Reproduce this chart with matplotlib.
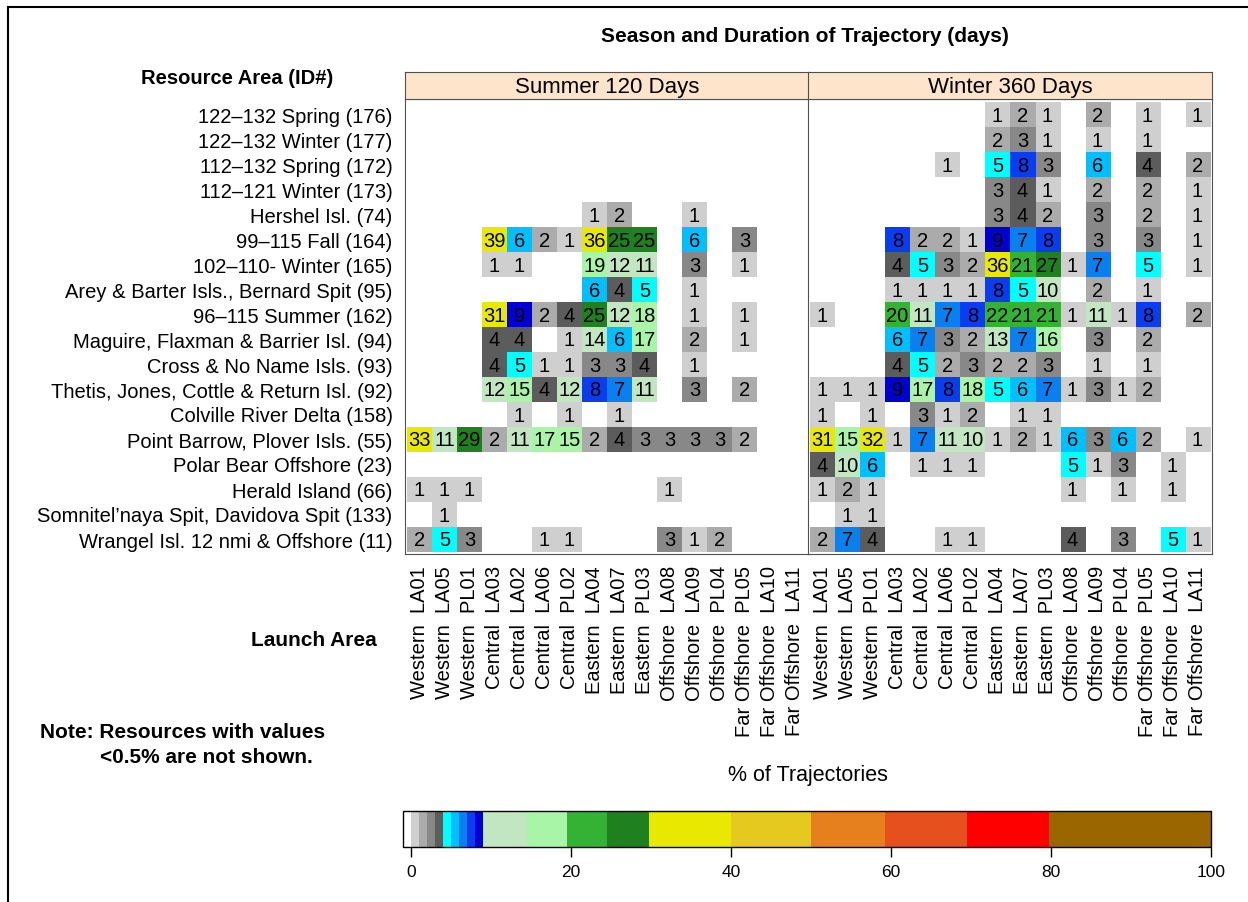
import numpy as np
import matplotlib.pyplot as plt
from matplotlib.colors import ListedColormap, BoundaryNorm
from matplotlib.cm import ScalarMappable
from matplotlib.lines import Line2D

plt.rcParams['font.family'] = ['Liberation Sans', 'DejaVu Sans']

resources = ['122\u2013132 Spring (176)', '122\u2013132 Winter (177)', '112\u2013132 Spring (172)',
             '112\u2013121 Winter (173)', 'Hershel Isl. (74)', '99\u2013115 Fall (164)',
             '102\u2013110- Winter (165)', 'Arey & Barter Isls., Bernard Spit (95)',
             '96\u2013115 Summer (162)', 'Maguire, Flaxman & Barrier Isl. (94)',
             'Cross & No Name Isls. (93)', 'Thetis, Jones, Cottle & Return Isl. (92)',
             'Colville River Delta (158)', 'Point Barrow, Plover Isls. (55)',
             'Polar Bear Offshore (23)', 'Herald Island (66)',
             "Somnitel\u2019naya Spit, Davidova Spit (133)", 'Wrangel Isl. 12 nmi & Offshore (11)']

launch_areas = ['Western  LA01', 'Western  LA05', 'Western  PL01', 'Central  LA03', 'Central  LA02',
                'Central  LA06', 'Central  PL02', 'Eastern  LA04', 'Eastern  LA07', 'Eastern  PL03',
                'Offshore  LA08', 'Offshore  LA09', 'Offshore  PL04', 'Far Offshore  PL05',
                'Far Offshore  LA10', 'Far Offshore  LA11']

# % of trajectories, 0 = not shown
summer = [
    [0, 0, 0, 0, 0, 0, 0, 0, 0, 0, 0, 0, 0, 0, 0, 0],
    [0, 0, 0, 0, 0, 0, 0, 0, 0, 0, 0, 0, 0, 0, 0, 0],
    [0, 0, 0, 0, 0, 0, 0, 0, 0, 0, 0, 0, 0, 0, 0, 0],
    [0, 0, 0, 0, 0, 0, 0, 0, 0, 0, 0, 0, 0, 0, 0, 0],
    [0, 0, 0, 0, 0, 0, 0, 1, 2, 0, 0, 1, 0, 0, 0, 0],
    [0, 0, 0, 39, 6, 2, 1, 36, 25, 25, 0, 6, 0, 3, 0, 0],
    [0, 0, 0, 1, 1, 0, 0, 19, 12, 11, 0, 3, 0, 1, 0, 0],
    [0, 0, 0, 0, 0, 0, 0, 6, 4, 5, 0, 1, 0, 0, 0, 0],
    [0, 0, 0, 31, 9, 2, 4, 25, 12, 18, 0, 1, 0, 1, 0, 0],
    [0, 0, 0, 4, 4, 0, 1, 14, 6, 17, 0, 2, 0, 1, 0, 0],
    [0, 0, 0, 4, 5, 1, 1, 3, 3, 4, 0, 1, 0, 0, 0, 0],
    [0, 0, 0, 12, 15, 4, 12, 8, 7, 11, 0, 3, 0, 2, 0, 0],
    [0, 0, 0, 0, 1, 0, 1, 0, 1, 0, 0, 0, 0, 0, 0, 0],
    [33, 11, 29, 2, 11, 17, 15, 2, 4, 3, 3, 3, 3, 2, 0, 0],
    [0, 0, 0, 0, 0, 0, 0, 0, 0, 0, 0, 0, 0, 0, 0, 0],
    [1, 1, 1, 0, 0, 0, 0, 0, 0, 0, 1, 0, 0, 0, 0, 0],
    [0, 1, 0, 0, 0, 0, 0, 0, 0, 0, 0, 0, 0, 0, 0, 0],
    [2, 5, 3, 0, 0, 1, 1, 0, 0, 0, 3, 1, 2, 0, 0, 0],
]

winter = [
    [0, 0, 0, 0, 0, 0, 0, 1, 2, 1, 0, 2, 0, 1, 0, 1],
    [0, 0, 0, 0, 0, 0, 0, 2, 3, 1, 0, 1, 0, 1, 0, 0],
    [0, 0, 0, 0, 0, 1, 0, 5, 8, 3, 0, 6, 0, 4, 0, 2],
    [0, 0, 0, 0, 0, 0, 0, 3, 4, 1, 0, 2, 0, 2, 0, 1],
    [0, 0, 0, 0, 0, 0, 0, 3, 4, 2, 0, 3, 0, 2, 0, 1],
    [0, 0, 0, 8, 2, 2, 1, 9, 7, 8, 0, 3, 0, 3, 0, 1],
    [0, 0, 0, 4, 5, 3, 2, 36, 21, 27, 1, 7, 0, 5, 0, 1],
    [0, 0, 0, 1, 1, 1, 1, 8, 5, 10, 0, 2, 0, 1, 0, 0],
    [1, 0, 0, 20, 11, 7, 8, 22, 21, 21, 1, 11, 1, 8, 0, 2],
    [0, 0, 0, 6, 7, 3, 2, 13, 7, 16, 0, 3, 0, 2, 0, 0],
    [0, 0, 0, 4, 5, 2, 3, 2, 2, 3, 0, 1, 0, 1, 0, 0],
    [1, 1, 1, 9, 17, 8, 18, 5, 6, 7, 1, 3, 1, 2, 0, 0],
    [1, 0, 1, 0, 3, 1, 2, 0, 1, 1, 0, 0, 0, 0, 0, 0],
    [31, 15, 32, 1, 7, 11, 10, 1, 2, 1, 6, 3, 6, 2, 0, 1],
    [4, 10, 6, 0, 1, 1, 1, 0, 0, 0, 5, 1, 3, 0, 1, 0],
    [1, 2, 1, 0, 0, 0, 0, 0, 0, 0, 1, 0, 1, 0, 1, 0],
    [0, 1, 1, 0, 0, 0, 0, 0, 0, 0, 0, 0, 0, 0, 0, 0],
    [2, 7, 4, 0, 0, 1, 1, 0, 0, 0, 4, 0, 3, 0, 5, 1],
]

panels = ['Summer 120 Days', 'Winter 360 Days']

colors = ['#cfcfcf', '#ababab', '#888888', '#5c5c5c',
          '#00ffff', '#00bfff', '#0a80f0', '#0a3cf0', '#0000d0',
          '#c2e6c2', '#a8f5a8', '#33b233', '#1f801f',
          '#e8e800', '#e6c91e', '#e6801e', '#e6501e', '#ff0000', '#996600']
cell_bounds = [0.5, 1.5, 2.5, 3.5, 4.5, 5.5, 6.5, 7.5, 8.5, 9.5, 14.5, 19.5, 24.5, 29.5,
               39.5, 49.5, 59.5, 69.5, 79.5, 100.5]
bar_bounds = [-1, 0, 1, 2, 3, 4, 5, 6, 7, 8, 9, 14.5, 19.5, 24.5, 29.7, 40, 50, 59.3, 69.5, 79.7, 100]

W, H = 1248, 903


def rect(l, t, r, b):
    return [l / W, 1 - b / H, (r - l) / W, (b - t) / H]


fig = plt.figure(figsize=(W / 100, H / 100), dpi=100)

cmap = ListedColormap(colors)
norm = BoundaryNorm(cell_bounds, cmap.N)
edge = '#505050'

lefts = [405, 808]
for k, data in enumerate([summer, winter]):
    vals = np.array(data)
    ax = fig.add_axes(rect(lefts[k], 100, lefts[k] + 404, 555))
    ax.imshow(np.ma.masked_equal(vals, 0), cmap=cmap, norm=norm, aspect='auto',
              interpolation='nearest', extent=(-0.5, 15.5, 17.5, -0.5))
    for i in range(vals.shape[0]):
        for j in range(vals.shape[1]):
            if vals[i, j] > 0:
                ax.text(j, i + 0.04, str(vals[i, j]), ha='center', va='center', fontsize=14.5)
    ax.set_xlim(-0.58, 15.58)
    ax.set_ylim(17.6, -0.6)
    ax.set_xticks(range(16))
    ax.set_xticklabels(launch_areas, rotation=90, fontsize=14.5)
    ax.tick_params(axis='x', length=0, pad=8)
    if k == 0:
        ax.set_yticks(range(18))
        ax.set_yticklabels(resources, fontsize=14.5)
        ax.tick_params(axis='y', length=0, pad=9)
    else:
        ax.set_yticks([])
    for s in ax.spines.values():
        s.set_color(edge)

    hx = fig.add_axes(rect(lefts[k], 73, lefts[k] + 404, 100))
    hx.set_facecolor('#fde4ca')
    hx.set_xticks([])
    hx.set_yticks([])
    for s in hx.spines.values():
        s.set_color(edge)
    hx.text(0.5, 0.45, panels[k], ha='center', va='center', fontsize=16, transform=hx.transAxes)

# colour key
cax = fig.add_axes(rect(403, 812, 1211, 848))
sm = ScalarMappable(cmap=ListedColormap(['#ffffff'] + colors), norm=BoundaryNorm(bar_bounds, len(colors) + 1))
cb = fig.colorbar(sm, cax=cax, orientation='horizontal', spacing='proportional',
                  ticks=[0, 20, 40, 60, 80, 100])
cb.minorticks_off()
cb.ax.tick_params(labelsize=12.5, length=7, width=1, pad=5)
cb.outline.set_linewidth(1)

fig.text(805 / W, 1 - 37 / H, 'Season and Duration of Trajectory (days)', ha='center', va='center',
         fontsize=15, fontweight='bold')
fig.text(237 / W, 1 - 78 / H, 'Resource Area (ID#)', ha='center', va='center',
         fontsize=14.5, fontweight='bold')
fig.text(377 / W, 1 - 641 / H, 'Launch Area', ha='right', va='center', fontsize=15, fontweight='bold')
fig.text(40 / W, 1 - 733 / H, 'Note: Resources with values', ha='left', va='center',
         fontsize=15, fontweight='bold')
fig.text(100 / W, 1 - 758 / H, '<0.5% are not shown.', ha='left', va='center',
         fontsize=15, fontweight='bold')
fig.text(808 / W, 1 - 776 / H, '% of Trajectories', ha='center', va='center', fontsize=15.5)

# outer frame
fig.add_artist(Line2D([8 / W, 8 / W], [1 - 8 / H, 0], color='black', lw=1.5))
fig.add_artist(Line2D([8 / W, 1], [1 - 8 / H, 1 - 8 / H], color='black', lw=1.5))

fig.savefig('out.png', dpi=100)
